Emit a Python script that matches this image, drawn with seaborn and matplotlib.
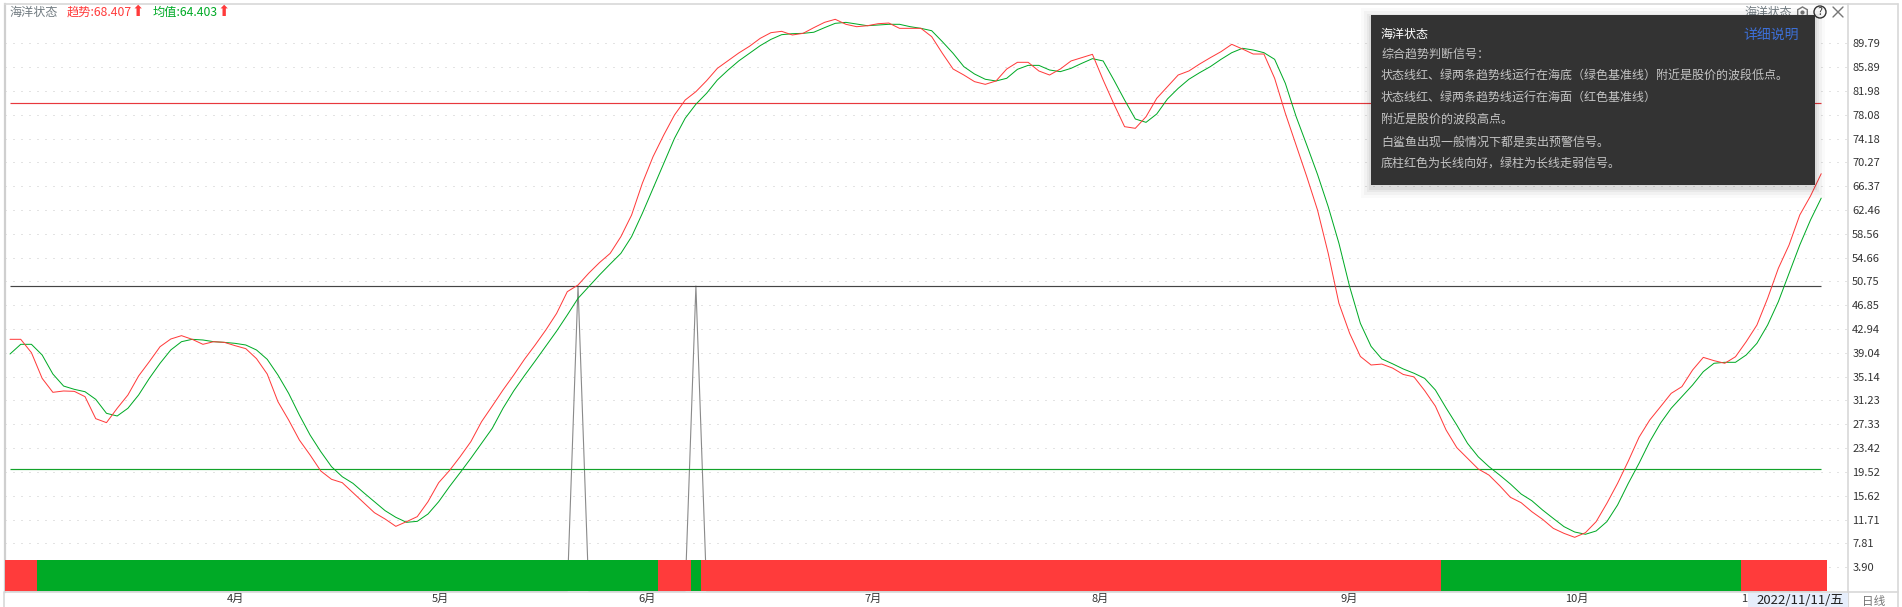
import pandas as pd
import seaborn as sns
import matplotlib.pyplot as plt
from matplotlib.patches import Rectangle, Circle

# 趋势线
trend = [41.26, 41.26, 39.07, 34.86, 32.57, 32.79, 32.73, 31.86, 28.25, 27.6,
         29.95, 32.13, 35.25, 37.6, 40.05, 41.31, 41.86, 41.26, 40.44, 40.87,
         40.76, 40.22, 39.73, 38.09, 35.57, 31.04, 28.03, 24.75, 22.3, 19.67,
         18.31, 17.76, 16.12, 14.48, 12.84, 11.8, 10.6, 11.37, 12.19, 14.64,
         17.76, 19.73, 22.02, 24.48, 27.76, 30.33, 32.95, 35.4, 37.98, 40.33,
         42.8, 45.5, 49.07, 50.16, 52.1, 53.83, 55.35, 58.09, 61.64, 66.83,
         71.2, 74.75, 78.03, 80.49, 81.86, 83.66, 85.68, 86.94, 88.2, 89.3,
         90.6, 91.53, 91.75, 91.15, 91.42, 92.35, 93.22, 93.72, 92.9, 92.51,
         92.67, 93.0, 93.11, 92.24, 92.24, 92.24, 90.88, 88.14, 85.57, 84.59,
         83.5, 83.06, 83.61, 85.57, 86.67, 86.67, 85.25, 84.59, 85.57, 86.89,
         87.43, 87.98, 83.77, 79.84, 76.12, 75.85, 77.75, 80.77, 82.68, 84.59,
         85.25, 86.39, 87.43, 88.42, 89.62, 88.85, 88.03, 88.03, 84.05, 78.3,
         73.1, 67.92, 62.46, 55.35, 47.16, 42.24, 38.45, 37.05, 37.2, 36.55,
         35.5, 35.1, 32.85, 30.3, 26.39, 23.5, 21.75, 20.0, 19.0, 17.26,
         15.36, 14.48, 13.0, 11.75, 10.27, 9.45, 8.8, 9.56, 11.37, 14.37,
         17.65, 21.3, 25.2, 28.03, 30.2, 32.4, 33.5, 36.23, 38.3, 37.76,
         37.33, 38.4, 40.87, 43.6, 47.98, 52.9, 56.72, 61.64, 64.75, 68.407]
# 均值线
mean = [38.85, 40.44, 40.44, 38.69, 35.57, 33.6, 33.06, 32.67, 31.42, 29.13,
        28.69, 29.95, 32.13, 34.86, 37.33, 39.51, 40.87, 41.26, 41.15, 40.87,
        40.76, 40.6, 40.33, 39.51, 37.98, 35.41, 32.4, 28.85, 25.57, 22.84,
        20.38, 18.74, 17.65, 16.12, 14.64, 13.17, 12.08, 11.26, 11.42, 12.62,
        14.64, 17.1, 19.4, 21.75, 24.2, 26.67, 29.95, 32.8, 35.3, 37.7,
        40.16, 42.6, 45.25, 47.98, 49.9, 51.8, 53.6, 55.35, 58.09, 61.9,
        66.0, 70.1, 74.2, 77.5, 79.8, 81.6, 83.77, 85.4, 86.9, 88.14,
        89.4, 90.43, 91.2, 91.36, 91.42, 91.6, 92.35, 93.06, 93.22, 92.95,
        92.67, 92.79, 92.9, 92.9, 92.51, 92.24, 91.85, 90.05, 88.14, 85.96,
        84.75, 83.89, 83.61, 84.05, 85.52, 86.17, 86.17, 85.41, 85.14, 85.68,
        86.5, 87.27, 86.89, 83.77, 80.49, 77.38, 76.83, 78.2, 80.66, 82.4,
        83.89, 84.97, 85.96, 87.16, 88.25, 88.97, 88.69, 88.25, 87.16, 83.22,
        77.8, 73.1, 68.3, 63.0, 57.0, 49.89, 43.88, 40.1, 38.05, 37.25,
        36.4, 35.7, 34.86, 32.95, 30.0, 27.2, 24.2, 22.0, 20.38, 19.0,
        17.54, 15.9, 14.8, 13.28, 11.9, 10.55, 9.67, 9.3, 9.84, 11.37,
        14.1, 17.65, 20.93, 24.48, 27.5, 29.95, 31.86, 33.77, 35.96, 37.33,
        37.49, 37.49, 38.69, 40.6, 43.6, 47.43, 52.08, 56.72, 60.82, 64.403]
# 白鲨信号
shark = [0] * 53 + [50] + [0] * 10 + [50] + [0] * 105
# 底柱
bar_state = (["up"] * 3 + ["down"] * 58 + ["up"] * 3 + ["down"] * 1
             + ["up"] * 69 + ["down"] * 28 + ["up"] * 8)
bar_value = [5.08] * 170
base_levels = [(20, "#12a32a"), (50, "#444444"), (80, "#e8383d")]

y_ticks = [3.90, 7.81, 11.71, 15.62, 19.52, 23.42, 27.33, 31.23, 35.14, 39.04,
           42.94, 46.85, 50.75, 54.66, 58.56, 62.46, 66.37, 70.27, 74.18, 78.08,
           81.98, 85.89, 89.79]
month_pos = [21, 40.2, 59.4, 80.5, 101.7, 125, 146.2, 162.6]
month_labels = ["4月", "5月", "6月", "7月", "8月", "9月", "10月", "11月"]

tip_lines = ["综合趋势判断信号：",
             "状态线红、绿两条趋势线运行在海底（绿色基准线）附近是股价的波段低点。",
             "状态线红、绿两条趋势线运行在海面（红色基准线）",
             "附近是股价的波段高点。",
             "白鲨鱼出现一般情况下都是卖出预警信号。",
             "底柱红色为长线向好，绿柱为长线走弱信号。"]
tip_y = [54, 76, 98, 120, 142, 163]

RED = "#ff3b3b"
GREEN = "#00aa26"

sns.set_theme(style="white")
plt.rcParams['font.family'] = ['Noto Sans CJK SC', 'DejaVu Sans']

days = list(range(len(trend)))
df = pd.DataFrame({"day": days, "trend": trend, "mean": mean, "shark": shark,
                   "state": bar_state, "bar": bar_value})

fig = plt.figure(figsize=(19.02, 6.07), dpi=100)
ax = fig.add_axes([5 / 1902, 1 - 592 / 607, (1848 - 5) / 1902, (592 - 4) / 607])

sns.lineplot(data=df, x="day", y="shark", color="#8a8a8a", lw=0.8, errorbar=None, ax=ax, zorder=2)
sns.barplot(data=df, x="day", y="bar", hue="state", palette={"up": RED, "down": GREEN},
            saturation=1, dodge=False, width=1, linewidth=0, antialiased=False,
            legend=False, ax=ax, zorder=3)
for level, col in base_levels:
    ax.hlines(level, days[0], days[-1], color=col, lw=0.85, zorder=4)
sns.lineplot(data=df, x="day", y="mean", color=GREEN, lw=0.72, errorbar=None, ax=ax, zorder=5)
sns.lineplot(data=df, x="day", y="trend", color=RED, lw=0.72, errorbar=None, ax=ax, zorder=6)

ax.set_xlim(-0.467, 171.5)
ax.set_ylim(-0.164, 96.23)
ax.set_xlabel("")
ax.set_ylabel("")
ax.set_xticks(month_pos)
ax.set_xticklabels(month_labels, fontsize=8, color="#333333")
ax.set_yticks(y_ticks)
ax.set_yticklabels(["%.2f" % v for v in y_ticks], fontsize=8, color="#333333")
ax.yaxis.tick_right()
ax.tick_params(axis="both", length=0)
ax.tick_params(axis="x", pad=1)
ax.tick_params(axis="y", pad=3)
ax.grid(axis="y", color="#c8c8c8", lw=0.72, linestyle=(0, (1, 7)))
ax.set_axisbelow(True)
for side in ["top", "bottom", "right"]:
    ax.spines[side].set_color("#d8d8d8")
    ax.spines[side].set_linewidth(1.2)
ax.spines["left"].set_color("#cfcfcf")
ax.spines["left"].set_linewidth(1.6)

# 叠加层，用像素坐标
ov = fig.add_axes([0, 0, 1, 1], zorder=10)
ov.set_xlim(0, 1902)
ov.set_ylim(607, 0)
ov.axis("off")

ov.plot([1848, 1898], [4, 4], color="#d8d8d8", lw=1.2)
ov.plot([1848, 1898], [592, 592], color="#d8d8d8", lw=1.2)
ov.plot([1898, 1898], [4, 607], color="#d8d8d8", lw=1.2)
ov.plot([1848, 1848], [592, 607], color="#d8d8d8", lw=0.8)
ov.plot([4, 4], [592, 607], color="#d8d8d8", lw=1.2)

# 左上角标题
ov.text(9, 12, "海洋状态", fontsize=8.7, color="#707a80", va="center")
ov.text(67, 12, "趋势:68.407", fontsize=8.8, color=RED, va="center")
ov.text(153, 12, "均值:64.403", fontsize=8.8, color=GREEN, va="center")
ov.text(138, 12, "⬆", fontsize=10.5, color=RED, va="center", ha="center", family="DejaVu Sans")
ov.text(224, 12, "⬆", fontsize=10.5, color=RED, va="center", ha="center", family="DejaVu Sans")

# 右上角标题和图标
ov.text(1744, 12, "海洋状态", fontsize=8.6, color="#707a80", va="center")
ov.plot([1802], [12], marker="h", ms=8, mfc="none", mec="#777777", mew=1)
ov.plot([1802], [12], marker="o", ms=2, color="#777777")
ov.add_patch(Circle((1820, 12), 6, fc="none", ec="#333333", lw=1))
ov.text(1820, 12, "?", fontsize=7.5, color="#333333", ha="center", va="center")
ov.plot([1833, 1843], [7, 17], color="#777777", lw=1)
ov.plot([1833, 1843], [17, 7], color="#777777", lw=1)

# 说明框
for grow, alpha in [(10, 0.02), (7, 0.03), (4, 0.04), (2, 0.05)]:
    ov.add_patch(Rectangle((1371 - grow, 15 - grow + 3), 444 + 2 * grow, 170 + 2 * grow,
                           fc="black", ec="none", alpha=alpha, zorder=7))
ov.add_patch(Rectangle((1371, 15), 444, 170, fc="#333333", ec="none", zorder=8))
ov.text(1381, 34, "海洋状态", fontsize=8.65, color="white", va="center", zorder=9)
ov.text(1743, 35, "详细说明", fontsize=10, color="#3d70d8", va="center", zorder=9)
for line, yy in zip(tip_lines, tip_y):
    ov.text(1381, yy, line, fontsize=8.65, color="#c4c4c4", va="center", zorder=9)

# 底部日期框
ov.add_patch(Rectangle((1748, 593), 100, 14, fc="#e6eefb", ec="none", zorder=8))
ov.text(1756, 601, "2022/11/11/五", fontsize=9.5, color="#222222", va="center", zorder=9)
ov.text(1862, 601, "日线", fontsize=8.4, color="#777777", va="center", zorder=9)

plt.savefig("out.png", dpi=100)
